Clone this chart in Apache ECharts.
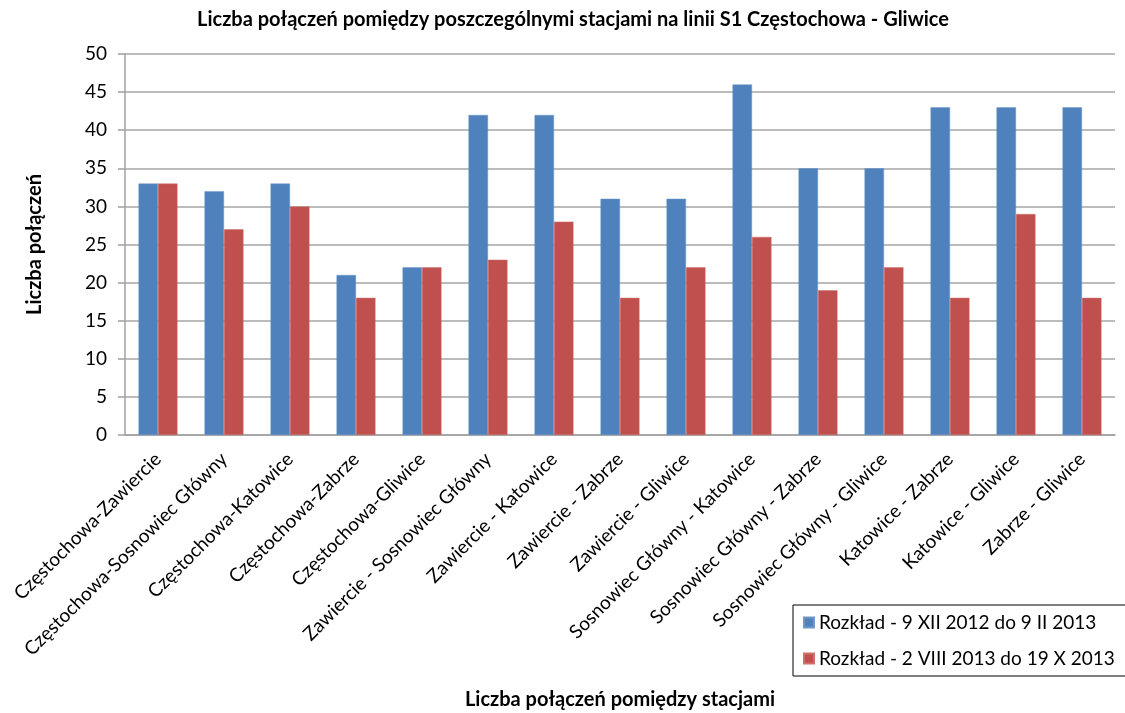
<!DOCTYPE html>
<html><head><meta charset="utf-8">
<script src="https://cdn.jsdelivr.net/npm/echarts@6/dist/echarts.min.js"></script>
<style>html,body{margin:0;padding:0;background:#fff}#c{width:1125px;height:713px}</style>
</head><body><div id="c"></div>
<script>
const categories = ["Częstochowa-Zawiercie","Częstochowa-Sosnowiec Główny","Częstochowa-Katowice","Częstochowa-Zabrze","Częstochowa-Gliwice","Zawiercie - Sosnowiec Główny","Zawiercie - Katowice","Zawiercie - Zabrze","Zawiercie - Gliwice","Sosnowiec Główny - Katowice","Sosnowiec Główny - Zabrze","Sosnowiec Główny - Gliwice","Katowice - Zabrze","Katowice - Gliwice","Zabrze - Gliwice"];
const seriesNames = ["Rozkład - 9 XII 2012 do 9 II 2013","Rozkład - 2 VIII 2013 do 19 X 2013"];
const values2012 = [33,32,33,21,22,42,42,31,31,46,35,35,43,43,43];
const values2013 = [33,27,30,18,22,23,28,18,22,26,19,22,18,29,18];
const FONT = "Lato, 'Open Sans', sans-serif";
const chart = echarts.init(document.getElementById('c'));
chart.setOption({
  animation:false,
  title:{text:"Liczba połączeń pomiędzy poszczególnymi stacjami na linii S1 Częstochowa - Gliwice",left:568,textAlign:'center',top:5,
    textStyle:{fontFamily:FONT,fontSize:20,fontWeight:'bold',color:'#000'}},
  grid:{left:125,right:10,top:54,bottom:278,outerBoundsMode:'none',containLabel:false},
  legend:{orient:'vertical',left:793,top:605,padding:[8,22,8,10],itemGap:17,
    borderColor:'#000',borderWidth:1,itemWidth:10,itemHeight:10,icon:'rect',
    textStyle:{fontFamily:FONT,fontSize:19,color:'#000'}},
  xAxis:{type:'category',data:categories,
    name:"Liczba połączeń pomiędzy stacjami",nameLocation:'middle',nameGap:255,
    nameTextStyle:{fontFamily:FONT,fontSize:20,fontWeight:'bold',color:'#000'},
    axisLine:{lineStyle:{color:'#a0a0a0',width:1.5}},axisTick:{show:false},
    axisLabel:{rotate:45,interval:0,margin:21,fontFamily:FONT,fontSize:19,color:'#000'}},
  yAxis:{type:'value',min:0,max:50,interval:5,
    name:"Liczba połączeń",nameLocation:'middle',nameGap:80,nameRotate:90,
    nameTextStyle:{fontFamily:FONT,fontSize:20,fontWeight:'bold',color:'#000'},
    axisLine:{show:true,lineStyle:{color:'#a0a0a0',width:1.5}},
    axisTick:{show:true,length:7,lineStyle:{color:'#a0a0a0',width:1.5}},
    splitLine:{lineStyle:{color:'#a6a6a6',width:1.5}},
    axisLabel:{margin:18,fontFamily:FONT,fontSize:19,color:'#000'}},
  series:[
    {name:seriesNames[0],type:'bar',data:values2012,barGap:'0%',barCategoryGap:'41%',
      itemStyle:{color:'#4F81BD',borderColor:'#6f97c9',borderWidth:0.5}},
    {name:seriesNames[1],type:'bar',data:values2013,
      itemStyle:{color:'#C0504D',borderColor:'#cf706d',borderWidth:0.5}}
  ]
});
</script></body></html>
